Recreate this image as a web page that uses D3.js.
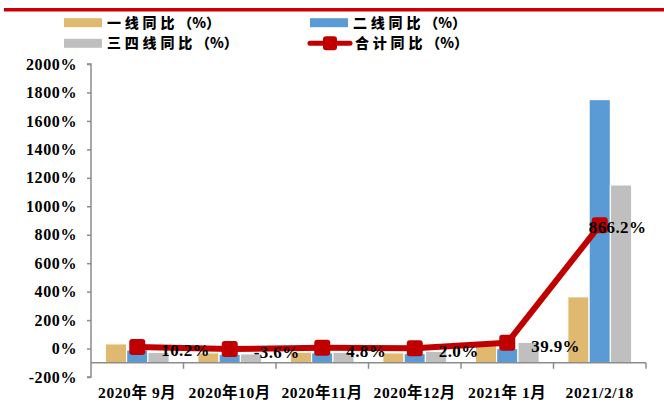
<!DOCTYPE html>
<html>
<head>
<meta charset="utf-8">
<script src="https://cdn.jsdelivr.net/npm/d3@7"></script>
<style>
  html, body { margin: 0; padding: 0; background: #fff; }
  svg { display: block; }
</style>
</head>
<body>
<svg id="chart" width="664" height="406"></svg>
<script>
// Categories and series (percent, year-on-year)
const categories = ["2020年 9月", "2020年10月", "2020年11月", "2020年12月", "2021年 1月", "2021/2/18"];
const tier1 = [33, -30, -26, -30, 21, 364];
const tier2 = [-10, -40, -30, -35, 0, 1750];
const tier34 = [-26, -37, -26, -19, 44, 1150];
const total = [10.2, -3.6, 4.8, 2.0, 39.9, 866.2];
const yTicks = [-200, 0, 200, 400, 600, 800, 1000, 1200, 1400, 1600, 1800, 2000];

const seriesNames = ["一线同比", "二线同比", "三四线同比", "合计同比"];
const unitSuffix = "（%）";
const colors = { t1: "#E0B970", t2: "#5B9BD5", t34: "#BFBFBF", total: "#C00000" };

(function () {
const svg = d3.select("#chart");
const serif = "'Liberation Serif', 'Times New Roman', 'Noto Sans CJK SC', serif";

const plotLeft = 91, plotRight = 646, plotTop = 64, plotBottom = 377;
const axisCross = -100;

const x = d3.scaleBand().domain(categories).range([plotLeft, plotRight]);
const y = d3.scaleLinear().domain([-200, 2000]).range([plotBottom, plotTop]);

// top rule
svg.append("rect").attr("x", 4).attr("y", 8).attr("width", 660).attr("height", 3.5).attr("fill", "#CC0000");

// bars
const xs = d3.scaleBand().domain(["t1", "t2", "t34"]).range([0, x.bandwidth()]).paddingInner(0).paddingOuter(0.67);
const seriesData = [["t1", tier1], ["t2", tier2], ["t34", tier34]];
seriesData.forEach(([key, vals]) => {
  svg.append("g").selectAll("rect").data(vals).join("rect")
    .attr("x", (d, i) => x(categories[i]) + xs(key))
    .attr("width", xs.bandwidth())
    .attr("y", d => Math.min(y(d), y(axisCross)))
    .attr("height", d => Math.abs(y(d) - y(axisCross)))
    .attr("fill", colors[key])
    .attr("stroke", "#fff")
    .attr("stroke-width", 1.2);
});

// y axis
const yAxis = d3.axisLeft(y).tickValues(yTicks).tickSize(4).tickFormat(d => d + "%");
const gy = svg.append("g").attr("transform", `translate(${plotLeft},0)`).call(yAxis);
gy.select(".domain").attr("stroke", "#8c8c8c").attr("stroke-width", 1.5).attr("d", `M-4,${y(2000)}H0V${y(-200)}H-4`);
gy.selectAll(".tick line").attr("stroke", "#8c8c8c").attr("stroke-width", 1.5);
gy.selectAll(".tick text")
  .attr("x", -14)
  .style("font-family", serif).style("font-weight", "bold").style("font-size", "16px")
  .style("letter-spacing", "0.6px").attr("fill", "#000");

// x axis at the crossing value
const xAxis = d3.axisBottom(x).tickSize(0).tickFormat("");
const gx = svg.append("g").attr("transform", `translate(0,${y(axisCross)})`).call(xAxis);
gx.select(".domain").attr("stroke", "#8c8c8c").attr("stroke-width", 1.5).attr("d", `M${plotLeft},0H${plotRight}`);
// boundary ticks between categories
const bounds = categories.map(c => x(c)).concat([plotRight]).slice(1);
gx.selectAll(".bound").data(bounds).join("line")
  .attr("x1", d => d).attr("x2", d => d).attr("y1", 0).attr("y2", 6)
  .attr("stroke", "#8c8c8c").attr("stroke-width", 1.5);
svg.append("g").selectAll("text").data(categories).join("text")
  .attr("x", d => x(d) + x.bandwidth() / 2)
  .attr("y", 398)
  .attr("text-anchor", "middle")
  .style("font-family", serif).style("font-weight", "bold").style("font-size", "15.5px")
  .style("letter-spacing", "0.6px")
  .text(d => d);

// total line
const cx = (d, i) => x(categories[i]) + x.bandwidth() / 2;
const line = d3.line().x(cx).y(d => y(d));
svg.append("path").datum(total).attr("d", line)
  .attr("fill", "none").attr("stroke", colors.total).attr("stroke-width", 6).attr("stroke-linejoin", "round");
svg.append("g").selectAll("rect").data(total).join("rect")
  .attr("x", (d, i) => cx(d, i) - 8).attr("y", d => y(d) - 8)
  .attr("width", 16).attr("height", 16).attr("rx", 3)
  .attr("fill", colors.total);

// value labels
svg.append("g").selectAll("text").data(total).join("text")
  .attr("x", (d, i) => i === total.length - 1 ? cx(d, i) - 11 : cx(d, i) + 24)
  .attr("y", (d, i) => y(d) + (i === total.length - 1 ? 2 : 3))
  .attr("dy", "0.35em")
  .style("font-family", serif).style("font-weight", "bold").style("font-size", "17px")
  .style("letter-spacing", "0.4px")
  .text(d => d.toFixed(1) + "%");

// legend
const legendFont = "'Noto Sans CJK SC', sans-serif";
const legendItems = [
  { name: seriesNames[0], type: "box", color: colors.t1, x: 64, y: 22.7 },
  { name: seriesNames[1], type: "box", color: colors.t2, x: 310, y: 22.7 },
  { name: seriesNames[2], type: "box", color: colors.t34, x: 64, y: 43.3 },
  { name: seriesNames[3], type: "line", color: colors.total, x: 310, y: 43.3 }
];
const lg = svg.append("g").selectAll("g").data(legendItems).join("g")
  .attr("transform", d => `translate(${d.x},${d.y})`);
lg.filter(d => d.type === "box").append("rect")
  .attr("x", 0).attr("y", -4.5).attr("width", 38).attr("height", 9).attr("fill", d => d.color);
const ll = lg.filter(d => d.type === "line");
ll.append("line").attr("x1", 0).attr("x2", 40).attr("y1", 0).attr("y2", 0)
  .attr("stroke", d => d.color).attr("stroke-width", 5).attr("stroke-linecap", "round");
ll.append("rect").attr("x", 13).attr("y", -7).attr("width", 14).attr("height", 14).attr("rx", 3)
  .attr("fill", d => d.color);
const lt = lg.append("text")
  .attr("x", d => d.type === "box" ? 43 : 45)
  .attr("dy", "0.36em")
  .style("font-family", legendFont).style("font-weight", "900").style("font-size", "14px")
  .attr("fill", "#000");
lt.append("tspan").style("letter-spacing", "3.8px").text(d => d.name);
lt.append("tspan").style("letter-spacing", "0px").text(unitSuffix);
})();
</script>
</body>
</html>
